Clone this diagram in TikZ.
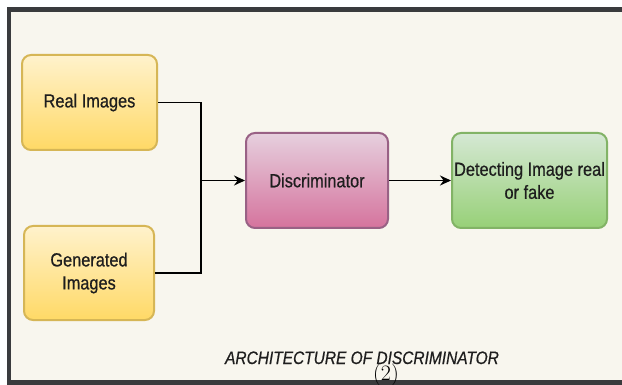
\documentclass[tikz,border=0pt]{standalone}
\usepackage{fontspec}
\usetikzlibrary{arrows.meta}
\newfontfamily\boxfont{Liberation Sans}[FakeStretch=0.86, FakeBold=0.6]

\definecolor{pagebg}{HTML}{F8F6EE}
\definecolor{framecol}{HTML}{3A3B3D}
\definecolor{inkcol}{HTML}{1E1E1E}
\definecolor{ytop}{HTML}{FFF2CC}
\definecolor{ybot}{HTML}{FFD966}
\definecolor{yline}{HTML}{D6B656}
\definecolor{ptop}{HTML}{E6D0DE}
\definecolor{pbot}{HTML}{D5739D}
\definecolor{pline}{HTML}{996185}
\definecolor{gtop}{HTML}{D5E8D4}
\definecolor{gbot}{HTML}{97D077}
\definecolor{gline}{HTML}{82B366}

\tikzset{
  blockbox/.style={rectangle, rounded corners=9pt, line width=2pt,
    align=center, text=inkcol, inner sep=0pt,
    font=\boxfont\fontsize{19}{23}\selectfont},
  inputbox/.style={blockbox, draw=yline, top color=ytop, bottom color=ybot},
  discbox/.style={blockbox, draw=pline, top color=ptop, bottom color=pbot},
  outbox/.style={blockbox, draw=gline, top color=gtop, bottom color=gbot},
  link/.style={line width=1.6pt, draw=black},
  arrowlink/.style={link, -{Stealth[length=11pt,width=10pt]}},
}

\begin{document}
\begin{tikzpicture}[x=1pt, y=-1pt]
  \useasboundingbox (0,0) rectangle (622,385);
  % frame and page
  \fill[framecol] (7,7) rectangle (622,385);
  \fill[pagebg] (11,12) rectangle (622,380);

  % blocks
  \node[inputbox, minimum width=135pt, minimum height=95pt] (real) at (89.5,102.5) {Real Images};
  \node[inputbox, minimum width=130pt, minimum height=94pt] (gen) at (89,273) {Generated\\Images};
  \node[discbox, minimum width=142pt, minimum height=95pt] (disc) at (317,180.5) {Discriminator};
  \node[outbox, minimum width=155pt, minimum height=95pt] (out) at (529.5,180.5) {Detecting Image real\\or fake};

  % connectors
  \coordinate (join) at (201,180.5);
  \draw[link] (real.east) -| (join);
  \draw[link] (gen.east) -| (join);
  \draw[arrowlink] (join) -- (disc.west);
  \draw[arrowlink] (disc.east) -- (out.west);

  % caption
  \node[anchor=base, text=inkcol, inner sep=0pt,
        font=\boxfont\itshape\fontsize{18}{22}\selectfont] (cap) at (362,364)
        {ARCHITECTURE OF DISCRIMINATOR};
  \node[anchor=base, inner sep=0pt, font=\fontsize{22}{26}\selectfont] (num) at (386,380) {(2)};
\end{tikzpicture}
\end{document}
